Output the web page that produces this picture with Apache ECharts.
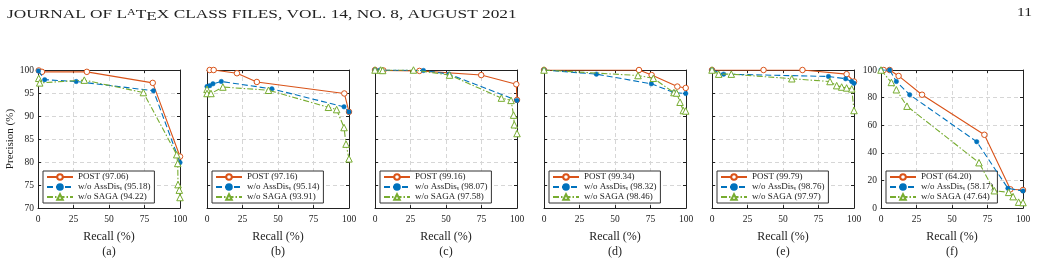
<!DOCTYPE html>
<html>
<head>
<meta charset="utf-8">
<script src="https://cdn.jsdelivr.net/npm/echarts@6/dist/echarts.min.js"></script>
<style>
  html, body { margin: 0; padding: 0; background: #fff; }
  #chart { width: 1039px; height: 264px; }
</style>
</head>
<body>
<div id="chart"></div>
<script>
// recall / precision points, one set per panel
var postA = [[0.5, 99.9], [2.8, 99.6], [34.4, 99.6], [80.8, 97.2], [100, 81.2]];
var assA = [[0.3, 99.8], [4.7, 97.9], [26.9, 97.5], [81.3, 95.5], [100, 79.9]];
var sagaA = [[0.5, 98.2], [1.2, 97.2], [32.6, 97.8], [74.2, 95.1], [97.7, 81.6], [98.4, 79.7], [98.6, 75.1], [99.5, 73.9], [100, 72.3]];

var postB = [[1.9, 100], [4.7, 100], [21.1, 99.3], [35.1, 97.4], [96.7, 94.9], [100, 90.9]];
var assB = [[0, 96.4], [1.9, 96.6], [4.2, 97.0], [10.1, 97.5], [45.7, 95.9], [96.5, 92.0], [100, 90.9]];
var sagaB = [[0, 95.8], [0, 94.9], [2.8, 94.9], [11.2, 96.3], [43.3, 95.6], [85.5, 91.9], [91.3, 91.4], [96.5, 87.5], [97.9, 83.9], [100, 80.7]];

var postC = [[0, 100], [5.9, 99.9], [31.3, 99.8], [74.8, 98.9], [99.5, 96.9], [100, 93.5]];
var assC = [[0, 100], [3.5, 100], [34.1, 99.9], [52, 99.1], [100, 93.4]];
var sagaC = [[0, 100], [4.0, 100], [5.4, 99.9], [27.1, 100], [52.5, 98.9], [89.0, 93.9], [95.8, 93.4], [97.6, 90.2], [98.1, 88.1], [100, 86.2]];

var postD = [[0, 100], [66.9, 100], [75.8, 98.9], [93.9, 96.4], [99.8, 96.1]];
var assD = [[0, 100], [36.9, 99.1], [75.6, 97.0], [91.5, 95.1], [99.8, 94.9]];
var sagaD = [[0, 100], [66.2, 98.8], [77.0, 98.2], [91.5, 95.1], [93.4, 95.0], [95.8, 93.0], [98.1, 91.2], [99.8, 91.1]];

var postE = [[0, 100], [36.3, 100], [63.7, 100], [94.8, 99.1], [100, 97.5]];
var assE = [[0, 100], [8.2, 99.1], [82, 98.6], [94.1, 98.1], [98.4, 97.5], [100, 97.1]];
var sagaE = [[0, 100], [4.7, 99.1], [13.6, 99.1], [56.2, 98.1], [83.1, 97.5], [87.8, 96.6], [91.3, 96.3], [94.8, 96.1], [98.4, 95.9], [100, 91.2]];

var postF = [[1.9, 100], [6.1, 100], [12.4, 95.7], [28.9, 82.1], [72.8, 53.1], [91.1, 13.6], [100, 13.1]];
var assF = [[0, 100], [6.1, 100], [10.8, 91.7], [20.2, 82.1], [67.4, 48.1], [89.4, 14.3], [100, 12.4]];
var sagaF = [[0, 100], [7.3, 91.0], [10.8, 85.7], [18.3, 73.8], [69.0, 32.9], [79.8, 12.6], [89.9, 11.4], [93.0, 8.3], [96.9, 4.3], [100, 4.0]];

// scores shown in the legends
var postScores = ['97.06', '97.16', '99.16', '99.34', '99.79', '64.20'];
var assScores = ['95.18', '95.14', '98.07', '98.32', '98.76', '58.17'];
var sagaScores = ['94.22', '93.91', '97.58', '98.46', '97.97', '47.64'];
var panelLabels = ['(a)', '(b)', '(c)', '(d)', '(e)', '(f)'];

var postData = [postA, postB, postC, postD, postE, postF];
var assData = [assA, assB, assC, assD, assE, assF];
var sagaData = [sagaA, sagaB, sagaC, sagaD, sagaE, sagaF];

var serif = '"Liberation Serif", "DejaVu Serif", serif';
var orange = '#D95319', blue = '#0072BD', green = '#77AC30';
var lefts = [38, 207, 375, 544, 712, 881];
var plotTop = 70, plotW = 142, plotH = 140;

var chart = echarts.init(document.getElementById('chart'), null, { renderer: 'canvas' });

var grids = [], xAxes = [], yAxes = [], series = [], legends = [];
var boxX = [], boxY = [];

var dashed = { type: [4, 3], color: '#d6d6d6', width: 1 };
var tick = { show: true, inside: true, length: 3, lineStyle: { color: '#222' } };
var axLine = { show: true, onZero: false, lineStyle: { color: '#222', width: 1 } };

lefts.forEach(function (left, i) {
  var isF = i === 5;
  var yMin = isF ? 0 : 70, yStep = isF ? 20 : 5;
  grids.push({ left: left, top: plotTop, width: plotW, height: plotH, show: false });
  xAxes.push({
    gridIndex: i, type: 'value', min: 0, max: 100, interval: 25,
    name: 'Recall (%)\n' + panelLabels[i], nameLocation: 'middle', nameGap: 19,
    nameTextStyle: { fontFamily: serif, fontSize: 12, color: '#222', lineHeight: 15 },
    axisLine: axLine, axisTick: tick,
    axisLabel: { fontFamily: serif, fontSize: 9.5, color: '#222', margin: 6 },
    splitLine: { show: true, showMinLine: false, showMaxLine: false, lineStyle: dashed }
  });
  var y = {
    gridIndex: i, type: 'value', min: yMin, max: 100, interval: yStep,
    axisLine: axLine, axisTick: tick,
    axisLabel: { show: i === 0 || isF, fontFamily: serif, fontSize: 9.5, color: '#222', margin: 4 },
    splitLine: { show: true, showMinLine: false, showMaxLine: false, lineStyle: dashed }
  };
  if (i === 0) {
    y.name = 'Precision (%)';
    y.nameLocation = 'middle';
    y.nameGap = 17;
    y.nameTextStyle = { fontFamily: serif, fontSize: 11, color: '#222' };
  }
  yAxes.push(y);
  // mirrored top / right axes for the closed box
  boxX.push({
    gridIndex: i, type: 'value', position: 'top', min: 0, max: 100, interval: 25,
    axisLine: axLine, axisTick: tick, axisLabel: { show: false }, splitLine: { show: false }
  });
  boxY.push({
    gridIndex: i, type: 'value', position: 'right', min: yMin, max: 100, interval: yStep,
    axisLine: axLine, axisTick: tick, axisLabel: { show: false }, splitLine: { show: false }
  });

  var names = [
    'POST (' + postScores[i] + ')',
    'w/o AssDis_s (' + assScores[i] + ')',
    'w/o SAGA (' + sagaScores[i] + ')'
  ];
  series.push({
    name: names[0], type: 'line', xAxisIndex: i, yAxisIndex: i,
    data: postData[i], symbol: 'circle', symbolSize: 5.5, z: 3,
    lineStyle: { color: orange, width: 1.1 },
    itemStyle: { color: '#fff', borderColor: orange, borderWidth: 1 },
    emphasis: { disabled: true }
  });
  series.push({
    name: names[1], type: 'line', xAxisIndex: i, yAxisIndex: i,
    data: assData[i], symbol: 'circle', symbolSize: 4.5, z: 4,
    lineStyle: { color: blue, width: 1.1, type: [6, 3] },
    itemStyle: { color: blue, borderColor: blue, borderWidth: 0.5 },
    emphasis: { disabled: true }
  });
  series.push({
    name: names[2], type: 'line', xAxisIndex: i, yAxisIndex: i,
    data: sagaData[i], symbol: 'triangle', symbolSize: 6.5, z: 5,
    lineStyle: { color: green, width: 1.1, type: [6, 2, 1.5, 2] },
    itemStyle: { color: '#fff', borderColor: green, borderWidth: 1 },
    emphasis: { disabled: true }
  });

  legends.push({
    data: names, left: left + 5, top: 171, orient: 'vertical',
    backgroundColor: '#fff', borderColor: '#333', borderWidth: 1,
    padding: [1, 4, 1, 3], itemGap: 0, itemWidth: 26, itemHeight: 7,
    selectedMode: false,
    formatter: function (n) { return n.replace('AssDis_s', 'AssDis{s|s}'); },
    textStyle: {
      fontFamily: serif, fontSize: 9, lineHeight: 10, color: '#222',
      rich: { s: { fontFamily: serif, fontSize: 5.5, lineHeight: 10, verticalAlign: 'bottom', padding: [4, 0, 0, 0] } }
    }
  });
});

var option = {
  backgroundColor: '#fff',
  animation: false,
  grid: grids,
  xAxis: xAxes.concat(boxX),
  yAxis: yAxes.concat(boxY),
  legend: legends,
  series: series,
  graphic: [
    {
      type: 'text', x: 7, y: 6, scaleX: 1.33,
      style: {
        text: 'JOURNAL OF L{a|A}T{e|E}X CLASS FILES, VOL. 14, NO. 8, AUGUST 2021',
        font: '13px ' + serif, fill: '#222',
        rich: {
          a: { fontFamily: serif, fontSize: 9, padding: [0, 0, 4, 0], fill: '#222' },
          e: { fontFamily: serif, fontSize: 13, padding: [4, 0, 0, 0], fill: '#222' }
        }
      }
    },
    {
      type: 'text', x: 1017, y: 6, scaleX: 1.2,
      style: { text: '11', font: '13px ' + serif, fill: '#222' }
    }
  ]
};

chart.setOption(option);
</script>
</body>
</html>
